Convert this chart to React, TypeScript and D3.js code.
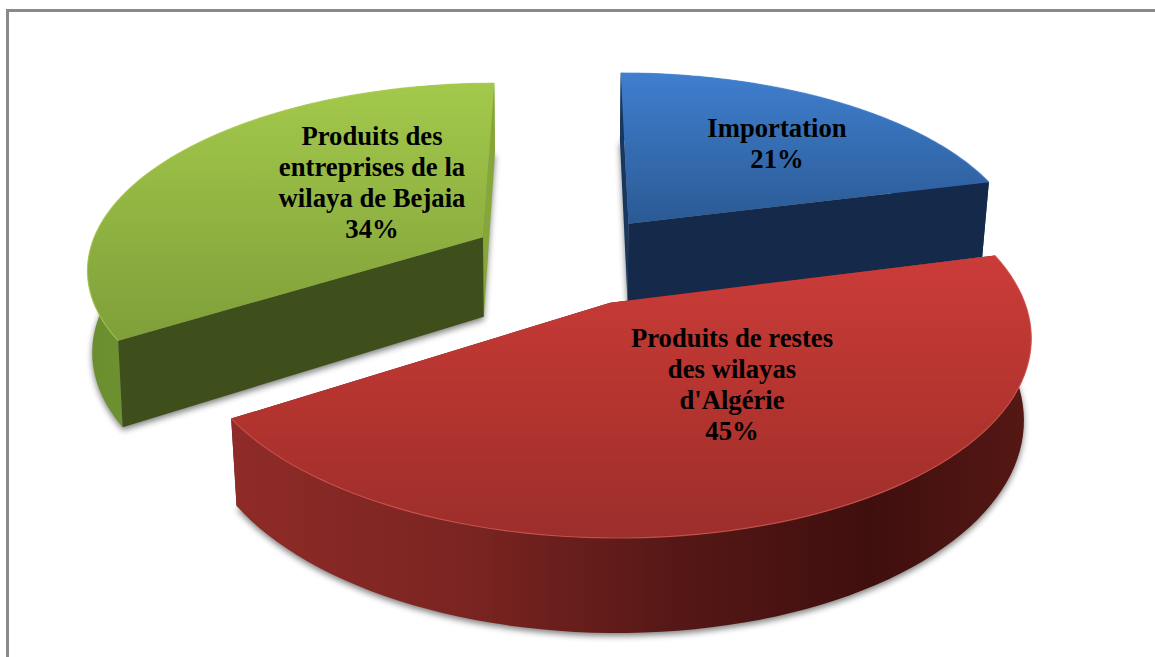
import React from "react";
import * as d3 from "d3";

// Source shares of the supplied products
const categories = ["Importation", "Produits de restes des wilayas d'Algérie", "Produits des entreprises de la wilaya de Bejaia"];
const shares = [21, 45, 34];
const labelLines = [
  ["Importation", "21%"],
  ["Produits de restes", "des wilayas", "d'Algérie", "45%"],
  ["Produits des", "entreprises de la", "wilaya de Bejaia", "34%"],
];
const labelAnchors: [number, number][] = [[777, 137], [732, 347], [372, 145]];
const labelLineGap = 31;

type Stop = [number, string];
const topStops: Stop[][] = [
  [[0, "#3f7fcf"], [1, "#2b5a94"]],
  [[0, "#cb3c39"], [0.5, "#b5342f"], [1, "#9c2e2b"]],
  [[0, "#a3c94b"], [1, "#7f9f39"]],
];
const rimStops: Stop[][] = [
  [[0, "#17375e"], [1, "#17375e"]],
  [[0, "#8f2b28"], [0.3, "#7a2421"], [0.55, "#561816"], [0.8, "#3f0f0e"], [1, "#561814"]],
  [[0, "#6a8d2f"], [0.4, "#7a9e36"], [1, "#86a63a"]],
];
const cutColors = ["#15294a", "#5a1a18", "#3f4f1c"];
const sideColors = ["#17375e", "#5a1a18", "#86a63a"];
const edgeColors = ["#4a88d4", "#dc5a54", "#a9cf55"];

// Camera parameters for the tilted, exploded disc
const cx = 569;
const cy = 259;
const radiusX = 400;
const radiusY = 184;
const perspective = 0.154;
const explode = 0.25;
const thicknesses = [80, 77, 81];
const floorScales = [0.984, 0.984, 0.99];
const rimScales = [1, 1, 0.99];

const project = (u: number, v: number, floorDrop: number, floorScale: number): [number, number] => {
  const w = 1 - perspective * v;
  const x = (radiusX * u) / w;
  const y = (radiusY * v) / w;
  return floorDrop
    ? [cx + x * floorScale, cy + y + floorDrop / w]
    : [cx + x, cy + y];
};

const pie = d3.pie<number>().sort(null).value((d) => d);
const arcs = pie(shares);
const path = d3.line<[number, number]>();

const polar = (a: number, off: [number, number], widthScale: number): [number, number] => [
  off[0] + widthScale * Math.sin(a),
  off[1] - Math.cos(a),
];

const slices = arcs.map((a, i) => {
  const mid = (a.startAngle + a.endAngle) / 2;
  const off: [number, number] = [explode * Math.sin(mid), -explode * Math.cos(mid)];
  const angles = d3.range(0, 81).map((t) => a.startAngle + ((a.endAngle - a.startAngle) * t) / 80);
  const rim = angles.map((t) => polar(t, off, rimScales[i]));
  const drop = thicknesses[i];
  const shrink = floorScales[i];
  const topRim = rim.map(([u, v]) => project(u, v, 0, shrink));
  const floorRim = rim.map(([u, v]) => project(u, v, drop, shrink));
  const apexTop = project(off[0], off[1], 0, shrink);
  const apexFloor = project(off[0], off[1], drop, shrink);
  return {
    i,
    key: categories[i],
    top: path([apexTop, ...topRim])! + "Z",
    floor: path([apexFloor, ...floorRim])! + "Z",
    rimWall: path([...topRim, ...[...floorRim].reverse()])! + "Z",
    startCut: path([apexTop, topRim[0], floorRim[0], apexFloor])! + "Z",
    endCut: path([apexTop, topRim[80], floorRim[80], apexFloor])! + "Z",
    rimEdge: path(topRim)!,
  };
});

export default function App() {
  return (
    <svg
      width={1155}
      height={657}
      style={{ position: "fixed", left: 0, top: 0, background: "#fff" }}
      fontFamily="'Liberation Serif', serif"
    >
      <defs>
        <filter id="soft" x="-10%" y="-10%" width="120%" height="120%">
          <feGaussianBlur stdDeviation={3} />
        </filter>
        {slices.map((s) => (
          <linearGradient key={s.i} id={`top${s.i}`} x1="0" y1="0" x2="0" y2="1">
            {topStops[s.i].map(([o, c]) => (
              <stop key={o} offset={o} stopColor={c} />
            ))}
          </linearGradient>
        ))}
        {slices.map((s) => (
          <linearGradient key={s.i} id={`rim${s.i}`} x1="0" y1="0" x2="1" y2="0">
            {rimStops[s.i].map(([o, c]) => (
              <stop key={o} offset={o} stopColor={c} />
            ))}
          </linearGradient>
        ))}
      </defs>

      <path d="M7.5 657V10.5H1155" fill="none" stroke="#8a8a8a" strokeWidth={3} />

      <g filter="url(#soft)" transform="translate(0,3)" opacity={0.5}>
        {slices.map((s) => (
          <path key={s.i} d={s.floor} fill="#000" />
        ))}
      </g>

      {slices.map((s) => {
        const rimWall = <path d={s.rimWall} fill={`url(#rim${s.i})`} />;
        return (
          <g key={s.key}>
            {/* The front slice's curved wall sits over its cut faces; the others sit behind theirs */}
            {s.i !== 1 && rimWall}
            <path d={s.i === 2 ? s.endCut : s.startCut} fill={sideColors[s.i]} />
            <path d={s.i === 2 ? s.startCut : s.endCut} fill={cutColors[s.i]} />
            {s.i === 1 && rimWall}
            <path d={s.top} fill={`url(#top${s.i})`} />
            <path d={s.rimEdge} fill="none" stroke={edgeColors[s.i]} strokeWidth={1.2} opacity={0.7} />
          </g>
        );
      })}

      {labelLines.map((lines, i) => (
        <text key={i} textAnchor="middle" fontWeight="bold" fontSize={26.7} fill="#000">
          {lines.map((line, j) => (
            <tspan key={j} x={labelAnchors[i][0]} y={labelAnchors[i][1] + j * labelLineGap}>
              {line}
            </tspan>
          ))}
        </text>
      ))}
    </svg>
  );
}
